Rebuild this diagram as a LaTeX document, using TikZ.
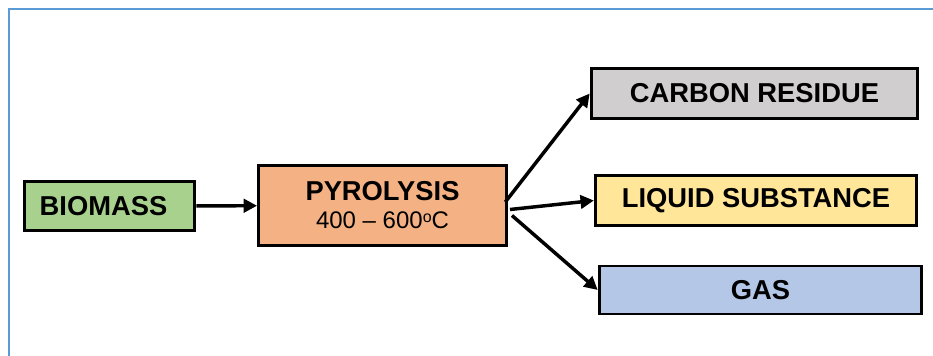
\documentclass[tikz,border=0pt]{standalone}
\usepackage{fontspec}
\setmainfont{Liberation Sans}
\usetikzlibrary{arrows.meta}
\definecolor{framblue}{HTML}{5B9BD5}
\definecolor{biogreen}{HTML}{A9D18E}
\definecolor{pyroorange}{HTML}{F4B183}
\definecolor{resgrey}{HTML}{D0CECE}
\definecolor{liqyellow}{HTML}{FFE699}
\definecolor{gasblue}{HTML}{B4C7E7}

\begin{document}
\begin{tikzpicture}[x=0.75pt,y=-0.75pt,
    stagebox/.style={draw=black,line width=2.2pt,inner sep=0pt,align=center,
        font=\fontsize{20.5}{23}\selectfont\bfseries},
    flowarrow/.style={line width=2.6pt,-{Triangle[length=10pt,width=10pt]}}]
\useasboundingbox (0,0) rectangle (933,356);
\draw[framblue,line width=1.6pt] (9,356) -- (9,9) -- (933,9);
\node[stagebox,fill=biogreen,minimum width=128pt,minimum height=37pt] (biomass) at (109.5,206) {BIOMASS\hspace*{9pt}};
\node[stagebox,fill=pyroorange,minimum width=186pt,minimum height=60pt] (pyro) at (382.5,205.5)
    {PYROLYSIS\\[-2pt]{\mdseries\fontsize{18}{21}\selectfont 400 -- 600{\fontsize{12}{12}\selectfont\raisebox{5pt}{o}}C}};
\node[stagebox,fill=resgrey,minimum width=245pt,minimum height=38pt] (carbon) at (754.5,93.5) {CARBON RESIDUE};
\node[stagebox,fill=liqyellow,minimum width=241pt,minimum height=38pt] (liquid) at (756,200.5) {LIQUID SUBSTANCE};
\node[stagebox,fill=gasblue,minimum width=242pt,minimum height=36pt] (gas) at (760.5,290) {GAS};
\draw[flowarrow] (biomass) -- (pyro);
\draw[flowarrow] ([xshift=-2pt,yshift=2.6pt]pyro.east) -- (carbon.west);
\draw[flowarrow] ([xshift=1.5pt,yshift=-3pt]pyro.east) -- (liquid.west);
\draw[flowarrow] ([xshift=3pt,yshift=-7.5pt]pyro.east) -- (gas.west);
\end{tikzpicture}
\end{document}
